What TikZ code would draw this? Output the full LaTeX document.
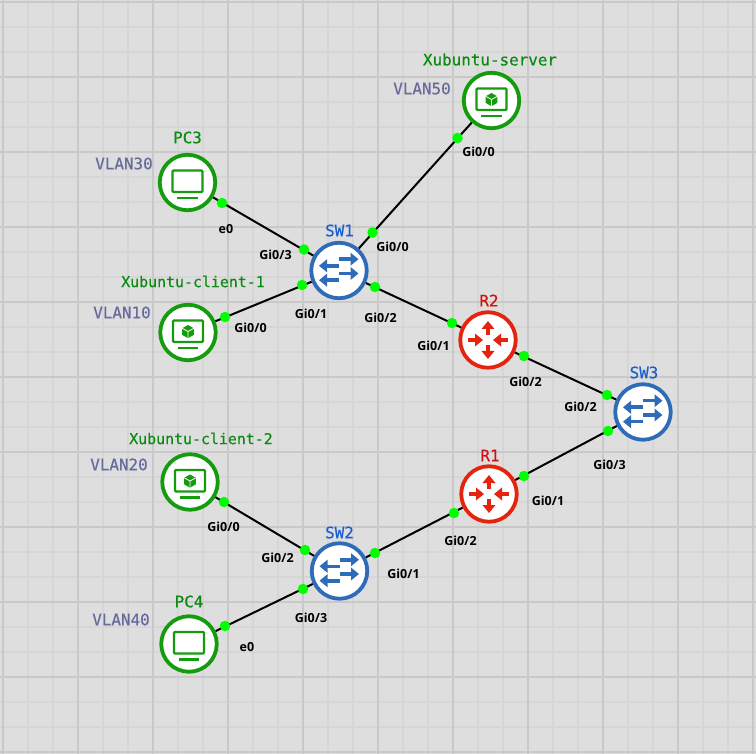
\documentclass[tikz,border=0pt]{standalone}
\usepackage{fontspec}
\newfontfamily\namefont[FakeBold=0.35]{DejaVu Sans Mono}
\newfontfamily\portfont{Open Sans}
\usetikzlibrary{arrows.meta}
\definecolor{hostgreen}{HTML}{149C0E}
\definecolor{namegreen}{HTML}{0B8A12}
\definecolor{swblue}{HTML}{2E6BB8}
\definecolor{nameblue}{HTML}{1C5FD0}
\definecolor{rtred}{HTML}{E4240F}
\definecolor{namered}{HTML}{D01010}
\definecolor{vlangrey}{HTML}{666A9C}
\definecolor{canvasgrey}{HTML}{DEDEDE}
\definecolor{gridminor}{HTML}{D6D6D6}
\definecolor{gridmajor}{HTML}{C9C9C9}
\tikzset{
	device/.style = {circle, fill = white, line width = 3.8, minimum size = 55.5, inner sep = 0},
	host/.style = {device, draw = hostgreen},
	switch/.style = {device, draw = swblue},
	router/.style = {device, draw = rtred},
	link/.style = {line width = 2, color = black},
	port/.style = {circle, fill = green, minimum size = 10.5, inner sep = 0},
	hostname/.style = {font = \namefont\fontsize{15.9}{18}\selectfont, color = namegreen},
	clientname/.style = {font = \namefont\fontsize{14.9}{18}\selectfont, color = namegreen},
	swname/.style = {font = \namefont\fontsize{15.9}{18}\selectfont, color = nameblue},
	rtname/.style = {font = \namefont\fontsize{15.9}{18}\selectfont, color = namered},
	vlan/.style = {font = \namefont\fontsize{15.9}{18}\selectfont, color = vlangrey},
	portname/.style = {font = \portfont\bfseries\fontsize{12.5}{14}\selectfont, color = black},
	arrowline/.style = {line width = 3.6, -{Triangle[length = 8, width = 12.5]}},
	pics/pcicon/.style = {code = {
		\draw[hostgreen, line width = 2.4, rounded corners = 1] (-15, -12) rectangle (15, 9.5);
		\draw[hostgreen, line width = 2.4] (-10.5, 15.3) -- (10, 15.3);
	}},
	pics/vmicon/.style = {code = {
		\draw[hostgreen, line width = 2.4, rounded corners = 1] (-15, -12) rectangle (15, 9.5);
		\draw[hostgreen, line width = 2.4] (-10.5, 15.3) -- (10, 15.3);
		\fill[hostgreen] (0, -7.5) -- (5.8, -4.2) -- (5.8, 2.4) -- (0, 5.7) -- (-5.8, 2.4) -- (-5.8, -4.2) -- cycle;
		\draw[white, line width = 0.8] (-5.8, -4.2) -- (0, -1) -- (5.8, -4.2) (0, -1) -- (0, 5.7);
	}},
	pics/swicon/.style = {code = {
		\draw[swblue, arrowline] (0, -11.3) -- (19.5, -11.3);
		\draw[swblue, arrowline] (0, 3) -- (19.5, 3);
		\draw[swblue, arrowline] (0, -4.7) -- (-20, -4.7);
		\draw[swblue, arrowline] (0, 9.7) -- (-20, 9.7);
	}},
	pics/rticon/.style = {code = {
		\draw[rtred, arrowline] (0, -5) -- (0, -19);
		\draw[rtred, arrowline] (0, 5) -- (0, 19);
		\draw[rtred, arrowline] (-20, 0) -- (-5, 0);
		\draw[rtred, arrowline] (20, 0) -- (5, 0);
	}}
}
\begin{document}
\begin{tikzpicture}[x = 1pt, y = -1pt]
	\useasboundingbox (0, 0) rectangle (756, 754);
	\fill[canvasgrey] (0, 0) rectangle (756, 754);
	% grid
	\foreach \gx in {28, 53, 103, 128, 178, 203, 253, 278, 328, 353, 403, 428, 478, 503, 553, 578, 628, 653, 703, 728}
		\draw[gridminor, line width = 1.6] (\gx, 0) -- (\gx, 754);
	\foreach \gy in {27, 52, 102, 127, 177, 202, 252, 277, 327, 352, 402, 427, 477, 502, 552, 577, 627, 652, 702, 727}
		\draw[gridminor, line width = 1.6] (0, \gy) -- (756, \gy);
	\foreach \gx in {3, 78, 153, 228, 303, 378, 453, 528, 603, 678, 753}
		\draw[gridmajor, line width = 2.4] (\gx, 0) -- (\gx, 754);
	\foreach \gy in {2, 77, 152, 227, 302, 377, 452, 527, 602, 677, 752}
		\draw[gridmajor, line width = 2.4] (0, \gy) -- (756, \gy);

	% devices
	\node[host] (server) at (491.5, 100.5) {};
	\node[host] (pc3) at (187.5, 182.5) {};
	\node[host] (client1) at (188, 332.5) {};
	\node[host] (client2) at (190, 482) {};
	\node[host] (pc4) at (189, 644) {};
	\node[switch] (sw1) at (339, 270.5) {};
	\node[switch] (sw2) at (339.5, 571) {};
	\node[switch] (sw3) at (643, 412) {};
	\node[router] (r1) at (489, 494) {};
	\node[router] (r2) at (488, 340) {};

	% links
	\draw[link] (sw1) -- (server);
	\draw[link] (sw1) -- (pc3);
	\draw[link] (sw1) -- (client1);
	\draw[link] (sw1) -- (r2);
	\draw[link] (r2) -- (sw3);
	\draw[link] (sw3) -- (r1);
	\draw[link] (r1) -- (sw2);
	\draw[link] (sw2) -- (client2);
	\draw[link] (sw2) -- (pc4);

	% icons
	\path (server) pic {vmicon};
	\path (client1) pic {vmicon};
	\path (client2) pic {vmicon};
	\path (pc3) pic {pcicon};
	\path (pc4) pic {pcicon};
	\path (sw1) pic {swicon};
	\path (sw2) pic {swicon};
	\path (sw3) pic {swicon};
	\path (r1) pic {rticon};
	\path (r2) pic {rticon};

	% ports
	\foreach \pname/\px/\py in {p1/457.5/138, p2/372.5/232.5, p3/222/203, p4/304/249.5, p5/302/285, p6/225/317, p7/375/287, p8/452/323, p9/524/356, p10/607/395, p11/608/431, p12/524/476, p13/454/513, p14/375/553, p15/305/550, p16/224/502, p17/303/589, p18/225/626}
		\node[port] (\pname) at (\px, \py) {};

	% names
	\node[hostname] (serverlabel) at (490, 59.5) {Xubuntu-server};
	\node[hostname] (pc3label) at (187.5, 137.5) {PC3};
	\node[clientname] (client1label) at (193, 281.5) {Xubuntu-client-1};
	\node[clientname] (client2label) at (201, 438.5) {Xubuntu-client-2};
	\node[hostname] (pc4label) at (189, 601.5) {PC4};
	\node[swname] (sw1label) at (339.5, 230.5) {SW1};
	\node[swname] (sw2label) at (339.5, 532.5) {SW2};
	\node[swname] (sw3label) at (644, 372.5) {SW3};
	\node[rtname] (r1label) at (490, 455.5) {R1};
	\node[rtname] (r2label) at (489, 300.5) {R2};
	\node[vlan] (vlan50) at (422, 88.5) {VLAN50};
	\node[vlan] (vlan30) at (124, 163.5) {VLAN30};
	\node[vlan] (vlan10) at (122, 312.5) {VLAN10};
	\node[vlan] (vlan20) at (119, 464.5) {VLAN20};
	\node[vlan] (vlan40) at (121, 619.5) {VLAN40};

	% port labels
	\foreach \lname/\lx/\ly/\ltext in {l1/478.5/151.5/Gi0\slash 0, l2/392.5/246.5/Gi0\slash 0, l3/226/229.5/e0, l4/275.5/254.5/Gi0\slash 3, l5/311/313.5/Gi0\slash 1, l6/250.5/327.5/Gi0\slash 0, l7/380.5/317.5/Gi0\slash 2, l8/433.5/345.5/Gi0\slash 1, l9/525.5/381.5/Gi0\slash 2, l10/580.5/406.5/Gi0\slash 2, l11/609.5/464.5/Gi0\slash 3, l12/548/500.5/Gi0\slash 1, l13/460.5/540.5/Gi0\slash 2, l14/403.5/573.5/Gi0\slash 1, l15/277.5/557.5/Gi0\slash 2, l16/223.5/526.5/Gi0\slash 0, l17/311/617.5/Gi0\slash 3, l18/247/647.5/e0}
		\node[portname] (\lname) at (\lx, \ly) {\ltext};
\end{tikzpicture}
\end{document}
